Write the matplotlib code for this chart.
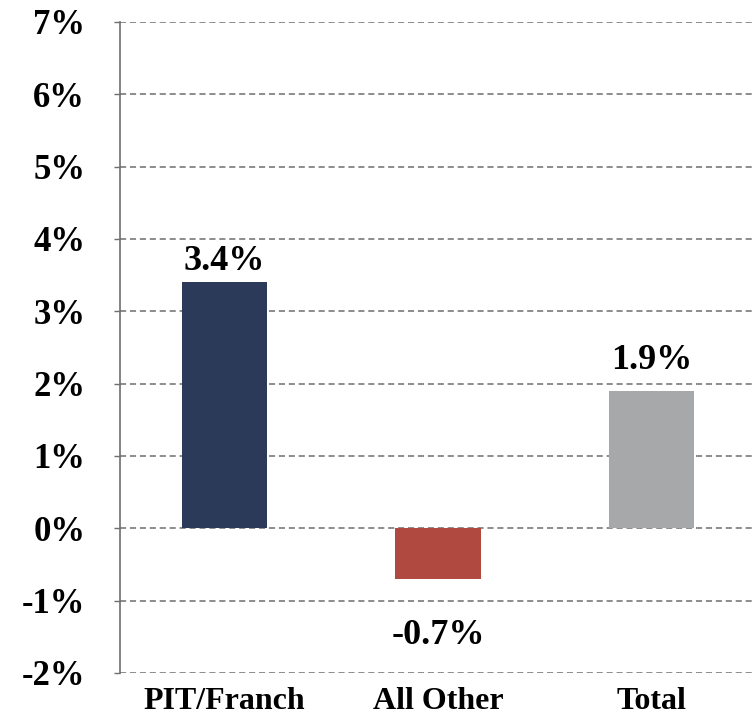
import matplotlib
matplotlib.use('Agg')
import matplotlib.pyplot as plt
from matplotlib.ticker import FuncFormatter

# data
categories = ['PIT/Franch', 'All Other', 'Total']
values = [3.4, -0.7, 1.9]
labels = ['3.4%', '-0.7%', '1.9%']
colors = ['#2a3a58', '#b04a40', '#a6a8aa']
y_ticks = [-2, -1, 0, 1, 2, 3, 4, 5, 6, 7]

plt.rcParams['font.family'] = ['Liberation Serif', 'DejaVu Serif']
plt.rcParams['font.weight'] = 'bold'
plt.rcParams['axes.unicode_minus'] = False

fig = plt.figure(figsize=(7.54, 7.18), dpi=100)
ax = fig.add_axes([0.159, 0.0627, 0.841, 0.9067])

x = range(len(categories))
ax.bar(x, values, width=0.4, color=colors, zorder=3)

ax.set_ylim(-2, 7)
ax.set_xlim(-0.49, 2.48)
ax.set_yticks(y_ticks)
ax.yaxis.set_major_formatter(FuncFormatter(lambda v, p: f'{v:.0f}%'))
ax.grid(axis='y', linestyle=(0, (4, 2.5)), color='#6e6e6e', linewidth=1.1, zorder=0)

ax.set_xticks(list(x))
ax.set_xticklabels(categories, fontsize=23, fontweight='bold')
ax.tick_params(axis='x', length=0, pad=10)
ax.tick_params(axis='y', labelsize=25, length=4, width=1, color='#6e6e6e', pad=21)

for s in ['top', 'right', 'bottom']:
    ax.spines[s].set_visible(False)
ax.spines['left'].set_color('#6e6e6e')
ax.spines['left'].set_linewidth(1.2)

# value labels
offsets = [3, -29, 10]
for i, (v, t) in enumerate(zip(values, labels)):
    off = offsets[i]
    ax.annotate(t, (i, v), xytext=(0, off), textcoords='offset points',
                ha='center', va='bottom' if v >= 0 else 'top',
                fontsize=26, fontweight='bold')

fig.savefig('out.png', dpi=100)
